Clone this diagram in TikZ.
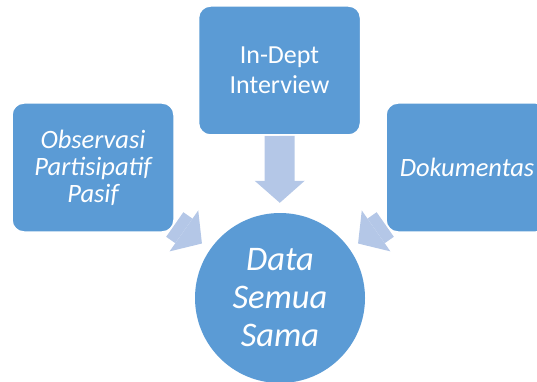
\documentclass[tikz,border=0pt]{standalone}
\usepackage{fontspec}
\setmainfont{Carlito}
\usetikzlibrary{arrows.meta,backgrounds}
\definecolor{boxblue}{RGB}{91,155,213}
\definecolor{arrowblue}{RGB}{180,199,231}

\begin{document}
\begin{tikzpicture}[x=1pt, y=-1pt,
  methodbox/.style={draw=white, line width=1.5pt, rectangle, rounded corners=12pt, fill=boxblue, text=white,
    minimum width=162pt, minimum height=129pt, inner sep=0pt, align=center},
  bigarrow/.style={draw=arrowblue, line width=30pt, -{Triangle[length=22pt, width=50pt, line width=0pt]}, shorten >=10pt}]
  \useasboundingbox (0,0) rectangle (537,382);
  \clip (0,0) rectangle (537,382);

  \node[methodbox, font=\fontsize{26.5}{27}\selectfont\itshape] (observasi) at (93,167.5) {Observasi\\Partisipatif\\Pasif};
  \node[methodbox, font=\fontsize{26}{29.5}\selectfont] (interview) at (279.5,70.5) {In-Dept\\Interview};
  \node[methodbox, font=\fontsize{26.5}{27}\selectfont\itshape] (dokumen) at (467,167.5) {Dokumentas};
  \node[circle, fill=boxblue, text=white, minimum size=170pt, inner sep=0pt, align=center,
    font=\fontsize{34.5}{38}\selectfont\itshape] (data) at (280,298) {Data\\Semua\\Sama};

  % panah ke lingkaran
  \begin{scope}[on background layer]
    \draw[bigarrow] (observasi) -- (data);
    \draw[bigarrow] (interview) -- (data);
    \draw[bigarrow] (dokumen) -- (data);
  \end{scope}
\end{tikzpicture}
\end{document}
